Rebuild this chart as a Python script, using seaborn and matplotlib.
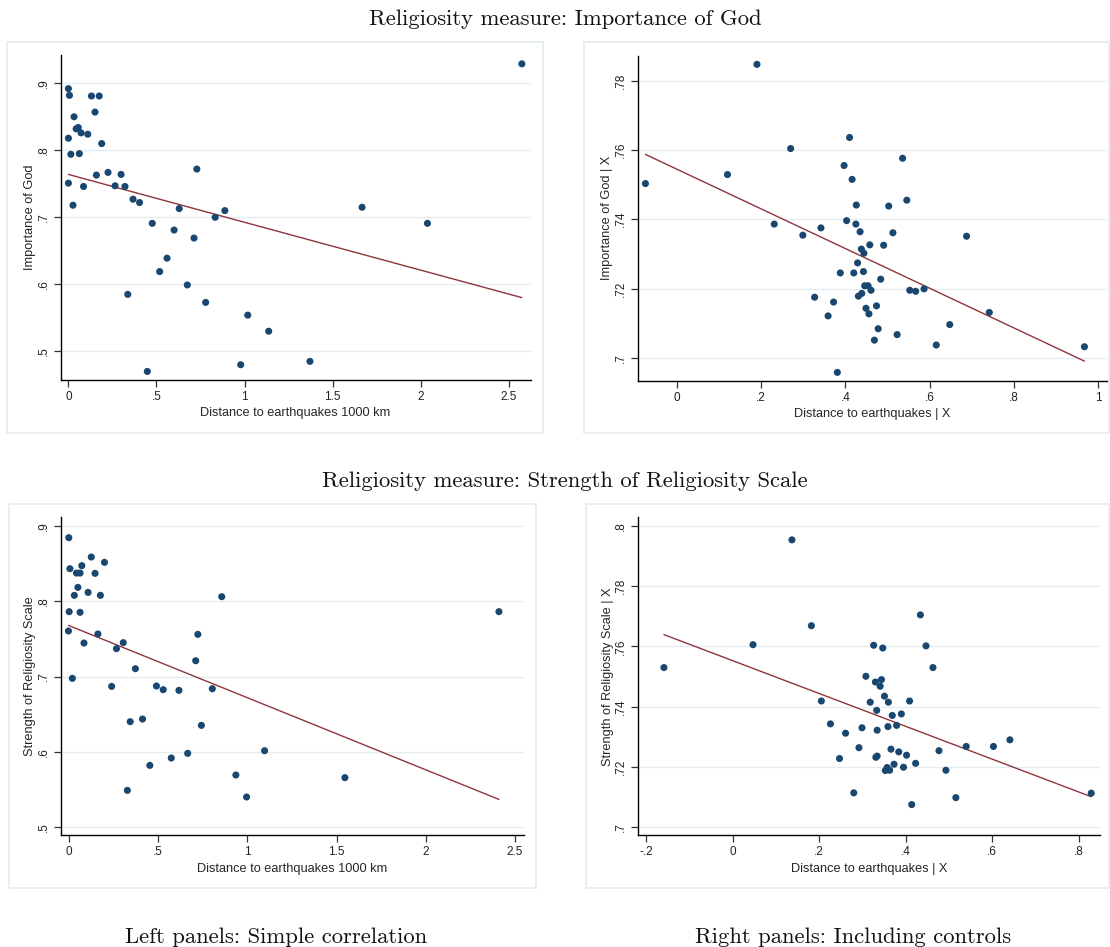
import numpy as np
import pandas as pd
import matplotlib
matplotlib.use("Agg")
import matplotlib.pyplot as plt
from matplotlib.patches import Rectangle
import seaborn as sns

# ---------------- data ----------------
# Panel A: Importance of God vs distance (simple)
god_dist = [2.574, 0.000, 0.006, 0.131, 0.175, 0.151, 0.032, 0.044, 0.056, 0.072,
            0.110, 0.000, 0.189, 0.014, 0.062, 0.729, 0.225, 0.299, 0.159, 0.000,
            0.086, 0.265, 0.321, 0.367, 0.404, 0.026, 1.667, 0.629, 0.888, 0.833,
            0.476, 2.038, 0.600, 0.713, 0.560, 0.518, 0.675, 0.337, 0.779, 1.018,
            1.137, 1.371, 0.978, 0.448]
god_val = [0.929, 0.892, 0.882, 0.881, 0.881, 0.857, 0.850, 0.832, 0.834, 0.826,
           0.824, 0.818, 0.810, 0.794, 0.795, 0.772, 0.767, 0.764, 0.763, 0.751,
           0.746, 0.747, 0.746, 0.727, 0.722, 0.718, 0.715, 0.713, 0.710, 0.700,
           0.691, 0.691, 0.681, 0.669, 0.639, 0.619, 0.599, 0.585, 0.573, 0.554,
           0.530, 0.485, 0.480, 0.470]

# Panel B: Importance of God | X vs distance | X (controls)
godx_dist = [0.190, 0.410, 0.270, 0.536, 0.397, 0.416, 0.120, -0.075, 0.546, 0.426,
             0.503, 0.403, 0.231, 0.425, 0.342, 0.513, 0.435, 0.688, 0.299, 0.458,
             0.491, 0.438, 0.444, 0.429, 0.443, 0.420, 0.388, 0.484, 0.446, 0.454,
             0.461, 0.553, 0.567, 0.587, 0.439, 0.431, 0.327, 0.372, 0.474, 0.449,
             0.742, 0.456, 0.359, 0.648, 0.478, 0.523, 0.469, 0.616, 0.968, 0.381]
godx_val = [0.7847, 0.7636, 0.7604, 0.7576, 0.7555, 0.7515, 0.7529, 0.7503, 0.7455, 0.7441,
            0.7438, 0.7396, 0.7386, 0.7386, 0.7375, 0.7361, 0.7364, 0.7351, 0.7354, 0.7326,
            0.7325, 0.7314, 0.7302, 0.7274, 0.7249, 0.7245, 0.7245, 0.7227, 0.7208, 0.7208,
            0.7195, 0.7195, 0.7192, 0.7199, 0.7186, 0.7178, 0.7175, 0.7161, 0.7150, 0.7143,
            0.7131, 0.7127, 0.7121, 0.7096, 0.7084, 0.7067, 0.7051, 0.7037, 0.7032, 0.6958]

# Panel C: Strength of Religiosity Scale vs distance (simple)
rel_dist = [0.000, 0.126, 0.200, 0.006, 0.073, 0.043, 0.063, 0.147, 0.051, 0.108,
            0.031, 0.177, 0.857, 0.002, 0.063, 2.410, -0.002, 0.163, 0.723, 0.085,
            0.305, 0.267, 0.711, 0.373, 0.020, 0.240, 0.491, 0.529, 0.617, 0.804,
            0.413, 0.344, 0.743, 1.097, 0.666, 0.574, 0.454, 0.936, 1.547, 0.328,
            0.996]
rel_val = [0.8845, 0.8588, 0.8517, 0.8433, 0.8473, 0.8375, 0.8375, 0.8371, 0.8185, 0.8118,
           0.8079, 0.8079, 0.8061, 0.7862, 0.7853, 0.7862, 0.7605, 0.7565, 0.7560, 0.7445,
           0.7450, 0.7370, 0.7210, 0.7104, 0.6976, 0.6869, 0.6874, 0.6825, 0.6816, 0.6838,
           0.6435, 0.6400, 0.6351, 0.6014, 0.5979, 0.5917, 0.5819, 0.5691, 0.5656, 0.5487,
           0.5399]

# Panel D: Strength of Religiosity Scale | X vs distance | X (controls)
relx_dist = [0.137, 0.434, 0.182, 0.047, 0.326, 0.347, 0.447, -0.159, 0.463, 0.308,
             0.344, 0.330, 0.341, 0.351, 0.205, 0.318, 0.360, 0.409, 0.333, 0.369,
             0.390, 0.226, 0.359, 0.379, 0.299, 0.261, 0.334, 0.641, 0.540, 0.603,
             0.292, 0.366, 0.477, 0.384, 0.402, 0.334, 0.331, 0.247, 0.373, 0.423,
             0.395, 0.357, 0.353, 0.363, 0.493, 0.280, 0.829, 0.516, 0.414]
relx_val = [0.7954, 0.7705, 0.7669, 0.7606, 0.7604, 0.7595, 0.7602, 0.7530, 0.7530, 0.7501,
            0.7490, 0.7482, 0.7468, 0.7435, 0.7419, 0.7415, 0.7415, 0.7419, 0.7388, 0.7371,
            0.7376, 0.7343, 0.7334, 0.7338, 0.7330, 0.7312, 0.7322, 0.7290, 0.7268, 0.7268,
            0.7264, 0.7259, 0.7254, 0.7250, 0.7239, 0.7236, 0.7232, 0.7228, 0.7209, 0.7212,
            0.7199, 0.7198, 0.7188, 0.7189, 0.7189, 0.7114, 0.7113, 0.7098, 0.7075]

# tick labels
xt_simple = [0, 0.5, 1, 1.5, 2, 2.5]
xl_simple = ["0", ".5", "1", "1.5", "2", "2.5"]
yt_simple = [0.5, 0.6, 0.7, 0.8, 0.9]
yl_simple = [".5", ".6", ".7", ".8", ".9"]
xt_godx = [0, 0.2, 0.4, 0.6, 0.8, 1]
xl_godx = ["0", ".2", ".4", ".6", ".8", "1"]
yt_godx = [0.70, 0.72, 0.74, 0.76, 0.78]
yl_godx = [".7", ".72", ".74", ".76", ".78"]
xt_relx = [-0.2, 0, 0.2, 0.4, 0.6, 0.8]
xl_relx = ["-.2", "0", ".2", ".4", ".6", ".8"]
yt_relx = [0.70, 0.72, 0.74, 0.76, 0.78, 0.80]
yl_relx = [".7", ".72", ".74", ".76", ".78", ".8"]

# ---------------- style ----------------
sns.set_theme(style="white")
plt.rcParams["font.family"] = ["Liberation Sans", "DejaVu Sans"]

W, H = 1110, 947
fig = plt.figure(figsize=(W / 100, H / 100), dpi=100)
fig.patch.set_facecolor("white")

NAVY = "#1a476f"
MAROON = "#90353b"
GRID = "#e4ecf0"
FRAME = "#e3ecf0"
LBL = 9.2


def px_axes(l, r, t, b):
    return fig.add_axes([l / W, 1 - b / H, (r - l) / W, (b - t) / H])


def px_frame(l, r, t, b):
    fig.add_artist(Rectangle((l / W, 1 - b / H), (r - l) / W, (b - t) / H,
                             transform=fig.transFigure, fill=False,
                             edgecolor=FRAME, linewidth=1.2, zorder=0))


def panel(ax, x, y, xlab, ylab, xt, xl, yt, yl, xlim, ylim):
    df = pd.DataFrame({"x": x, "y": y})
    sns.regplot(data=df, x="x", y="y", ax=ax, ci=None, truncate=True,
                scatter_kws=dict(s=26, color=NAVY, edgecolor="none", alpha=1, zorder=3),
                line_kws=dict(color=MAROON, linewidth=1.0, zorder=2))
    ax.set_xlim(*xlim)
    ax.set_ylim(*ylim)
    ax.set_xticks(xt)
    ax.set_xticklabels(xl, fontsize=8.5)
    ax.set_yticks(yt)
    ax.set_yticklabels(yl, fontsize=8.5, rotation=90, va="center")
    ax.set_xlabel(xlab, fontsize=LBL, labelpad=3)
    ax.set_ylabel(ylab, fontsize=LBL, labelpad=1)
    for s in ["top", "right"]:
        ax.spines[s].set_visible(False)
    for s in ["left", "bottom"]:
        ax.spines[s].set_color("black")
        ax.spines[s].set_linewidth(1.0)
    ax.tick_params(axis="both", direction="out", length=5, width=0.9,
                   color="#333333", labelcolor="#222222", pad=3,
                   bottom=True, left=True)
    ax.yaxis.grid(True, color=GRID, linewidth=1.0)
    ax.xaxis.grid(False)
    ax.set_axisbelow(True)
    ax.set_facecolor("white")


# frames
px_frame(7, 543.3, 41.7, 433)
px_frame(584, 1108.5, 41.7, 433)
px_frame(8.8, 536, 504.3, 887.7)
px_frame(585.7, 1108.5, 504.3, 887.7)

ax1 = px_axes(60.7, 530.5, 55, 380)
panel(ax1, god_dist, god_val, "Distance to earthquakes 1000 km", "Importance of God",
      xt_simple, xl_simple, yt_simple, yl_simple, (-0.0437, 2.623), (0.4572, 0.9422))

ax2 = px_axes(637.8, 1107, 55.7, 380.7)
panel(ax2, godx_dist, godx_val, "Distance to earthquakes | X", "Importance of God | X",
      xt_godx, xl_godx, yt_godx, yl_godx, (-0.0931, 1.0216), (0.6934, 0.7872))

ax3 = px_axes(60.7, 523.5, 517.3, 835.3)
panel(ax3, rel_dist, rel_val, "Distance to earthquakes 1000 km", "Strength of Religiosity Scale",
      xt_simple, xl_simple, yt_simple, yl_simple, (-0.0454, 2.5476), (0.489, 0.9116))

ax4 = px_axes(638.4, 1100.3, 517.3, 835.3)
panel(ax4, relx_dist, relx_val, "Distance to earthquakes | X", "Strength of Religiosity Scale | X",
      xt_relx, xl_relx, yt_relx, yl_relx, (-0.218, 0.850), (0.6973, 0.8029))

# serif headings
tkw = dict(fontfamily="cmr10", fontsize=16.3, color="#111111", va="baseline", ha="center")
fig.text(565 / W, 1 - 25 / H, "Religiosity measure: Importance of God", **tkw)
fig.text(564.5 / W, 1 - 486.7 / H, "Religiosity measure: Strength of Religiosity Scale", **tkw)
fig.text(276 / W, 1 - 942.7 / H, "Left panels: Simple correlation", **tkw)
fig.text(853 / W, 1 - 942.7 / H, "Right panels: Including controls", **tkw)

fig.savefig("out.png", dpi=100, facecolor="white")
